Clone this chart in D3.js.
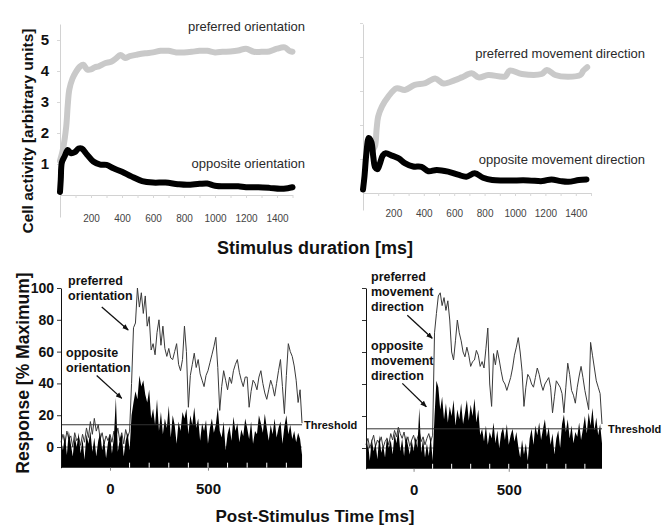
<!DOCTYPE html>
<html>
<head>
<meta charset="utf-8">
<script src="https://cdn.jsdelivr.net/npm/d3@7"></script>
<style>
  body { margin: 0; background: #fff; }
  text { font-family: "Liberation Sans", Arial, Helvetica, sans-serif; }
</style>
</head>
<body>
<div id="chart"></div>
<script>
// ---------- top panels: stimulus duration (ms) vs cell activity ----------
const prefOriT = [0, 20, 40, 50, 60, 80, 100, 130, 150, 175, 200, 225, 250, 290, 330, 360, 390, 420, 450, 500, 550, 600, 650, 700, 750, 800, 850, 900, 950, 1000, 1050, 1100, 1150, 1200, 1250, 1300, 1350, 1400, 1450, 1480, 1500];
const prefOriV = [1.1, 1.5, 2.2, 2.9, 3.4, 3.75, 3.95, 4.15, 4.2, 4.05, 4.05, 4.12, 4.15, 4.25, 4.3, 4.4, 4.52, 4.42, 4.48, 4.53, 4.57, 4.6, 4.65, 4.65, 4.6, 4.6, 4.62, 4.65, 4.65, 4.6, 4.62, 4.63, 4.66, 4.72, 4.62, 4.62, 4.63, 4.72, 4.76, 4.65, 4.62];
const oppOriT = [0, 5, 12, 30, 50, 70, 95, 120, 140, 175, 215, 260, 300, 345, 400, 460, 530, 600, 680, 760, 820, 900, 950, 1000, 1080, 1150, 1200, 1280, 1350, 1420, 1470, 1500];
const oppOriV = [0.1, 0.5, 1.05, 1.25, 1.45, 1.35, 1.38, 1.5, 1.5, 1.3, 1.08, 0.98, 0.97, 0.86, 0.75, 0.6, 0.45, 0.4, 0.4, 0.35, 0.33, 0.36, 0.37, 0.3, 0.28, 0.28, 0.25, 0.25, 0.23, 0.2, 0.22, 0.25];

const prefDirT = [70, 80, 90, 100, 125, 165, 220, 275, 340, 410, 475, 530, 605, 650, 715, 760, 825, 935, 965, 1045, 1175, 1210, 1265, 1350, 1430, 1450, 1475];
const prefDirV = [1.3, 1.4, 1.9, 2.25, 2.55, 2.83, 3.08, 3.03, 3.18, 3.23, 3.37, 3.22, 3.32, 3.4, 3.52, 3.4, 3.47, 3.43, 3.6, 3.5, 3.5, 3.62, 3.47, 3.42, 3.47, 3.6, 3.7];
const oppDirT = [0, 10, 22, 38, 55, 68, 80, 95, 110, 130, 150, 190, 235, 275, 330, 385, 430, 485, 560, 625, 680, 735, 790, 850, 950, 1090, 1180, 1240, 1300, 1350, 1420, 1470];
const oppDirV = [0.1, 0.5, 1.15, 1.62, 1.5, 1.05, 0.75, 0.7, 0.85, 1.1, 1.17, 1.1, 1.02, 0.88, 0.78, 0.77, 0.64, 0.68, 0.63, 0.54, 0.48, 0.58, 0.45, 0.38, 0.37, 0.37, 0.35, 0.4, 0.35, 0.33, 0.38, 0.4];

const durTicks = [100, 200, 300, 400, 500, 600, 700, 800, 900, 1000, 1100, 1200, 1300, 1400, 1500];
const durTickLabels = [200, 400, 600, 800, 1000, 1200, 1400];
const activityTicks = [1, 2, 3, 4, 5];

// ---------- bottom panels: post-stimulus time histograms (10 ms bins) ----------
const binTimes = d3.range(-250, 1000, 10);
const histPrefOri = [
  3, 8, 2, 10, 5, 7, 0, 9, 4, 6,
  1, 8, 3, 12, 6, 16, 8, 18, 10, 14,
  5, 9, 2, 7, 4, 8, 3, 10, 6, 12,
  4, 9, 2, 11, 6, 10, 40, 75, 78, 100,
  88, 97, 84, 95, 76, 82, 61, 65, 58, 72,
  80, 64, 76, 62, 57, 62, 56, 55, 60, 65,
  52, 48, 55, 76, 60, 25, 45, 52, 59, 50,
  55, 46, 42, 38, 45, 48, 53, 58, 63, 69,
  50, 23, 38, 48, 42, 36, 44, 40, 48, 52,
  55, 47, 42, 38, 44, 44, 25, 35, 42, 40,
  36, 44, 48, 40, 34, 30, 36, 42, 38, 32,
  40, 48, 55, 38, 21, 45, 65, 60, 57, 51,
  42, 28, 36, 15];
const histOppOri = [
  5, -2, 8, -5, 10, 2, -6, 7, 0, 9,
  -4, 5, -8, 8, 2, 10, -3, 6, -6, 4,
  9, -2, 5, -7, 3, 8, -4, 6, 31, -3,
  5, 8, -6, 4, 9, -2, 20, 28, 35, 30,
  45, 38, 42, 33, 28, 36, 18, 24, 14, 30,
  10, 22, 8, 18, 12, 26, 6, 20, 14, 2,
  16, 10, 22, 18, 24, 8, 20, 14, 25, 12,
  18, 4, 15, 10, 17, 2, 12, 18, 9, 14,
  25, 10, 6, 16, -2, 8, 13, 4, 19, 10,
  15, 3, 11, 7, 18, 12, 5, 16, 2, 10,
  8, 20, 15, 9, 21, 12, 4, 14, 8, 18,
  6, 12, 16, 2, 13, 20, 8, 14, 5, 10,
  3, 9, 5, -5];
const histPrefDir = [
  2, 6, 0, 4, 8, 1, 5, 3, 7, 0,
  4, 6, 2, 9, 5, 11, 7, 13, 9, 6,
  10, 3, 7, 1, 5, 8, 3, 6, 10, 4,
  7, 2, 6, 9, 4, 8, 72, 84, 95, 97,
  89, 94, 86, 92, 80, 60, 55, 67, 80, 72,
  67, 60, 57, 63, 58, 51, 54, 55, 61, 58,
  51, 54, 50, 62, 75, 40, 26, 59, 52, 61,
  55, 48, 42, 40, 36, 40, 44, 50, 58, 63,
  69, 60, 48, 26, 38, 46, 44, 40, 38, 44,
  50, 46, 40, 36, 40, 42, 44, 38, 22, 32,
  42, 40, 38, 34, 22, 38, 53, 46, 36, 33,
  28, 38, 45, 51, 44, 36, 30, 24, 66, 58,
  50, 42, 38, 34, 15];
const histOppDir = [
  -5, 4, -8, 6, -2, 3, -7, 8, -3, 2,
  -6, 7, 0, 5, -4, 9, 3, 12, -2, 6,
  -5, 8, 2, -4, 5, -2, 7, 0, 25, -3,
  6, -6, 3, -5, 8, -8, 20, 42, 38, 24,
  32, 18, 28, 16, 26, 20, 30, 14, 24, 18,
  28, 15, 22, 30, 17, 27, 20, 31, 16, 24,
  8, 12, 4, 14, 2, 10, 6, 16, 3, 11,
  0, 9, 13, 5, 15, 2, 8, 12, 4, 10,
  1, -6, 5, -4, 3, -8, 6, 12, 2, 14,
  8, 16, 5, 12, 18, 7, 13, 2, 9, -4,
  6, 11, 0, 15, 21, 10, 18, 6, 14, 3,
  10, 7, 16, 5, 12, 20, 9, 22, 14, 25,
  11, 19, 8, 15, 3];
const thresholdOri = 14;
const thresholdDir = 12;
const responseTicks = [0, 20, 40, 60, 80, 100];
const timeTickLabels = [0, 500];
const timeMinorTicks = [100, 200, 300, 400, 500, 600, 700, 800, 900];

const svg = d3.select("#chart").append("svg")
  .attr("width", 670)
  .attr("height", 525)
  .style("background", "#fff");

// arrow head for the annotations
svg.append("defs").append("marker")
  .attr("id", "arrow")
  .attr("viewBox", "0 0 10 10")
  .attr("refX", 9).attr("refY", 5)
  .attr("markerWidth", 5).attr("markerHeight", 5)
  .attr("orient", "auto")
  .append("path")
  .attr("d", "M0,1 L10,5 L0,9 z")
  .attr("fill", "#111");

function zip(ts, vs) { return ts.map((t, i) => [t, vs[i]]); }

// TOP PANEL
function drawTop(cfg) {
  const x = d3.scaleLinear().domain([0, 1500]).range(cfg.xRange);
  const y = d3.scaleLinear().domain([0, 5]).range(cfg.yRange);
  const g = svg.append("g");

  // y axis, the line runs a little past the data range
  const yAx = d3.scaleLinear()
    .domain([y.invert(cfg.axisBottom), y.invert(cfg.axisTop)])
    .range([cfg.axisBottom, cfg.axisTop]);
  const ya = g.append("g")
    .attr("transform", `translate(${x(0)},0)`)
    .call(d3.axisLeft(yAx).tickValues(activityTicks).tickSize(3).tickSizeOuter(0).tickPadding(8)
      .tickFormat(cfg.yLabels ? d3.format("d") : ""));
  ya.select(".domain").attr("stroke", "#d2d2d2");
  ya.selectAll(".tick line").attr("stroke", "#d8d8d8");
  ya.selectAll("text").style("font-size", "15px").style("font-weight", "bold").attr("fill", "#111");

  // x axis
  const xa = g.append("g")
    .attr("transform", `translate(0,${y(0)})`)
    .call(d3.axisBottom(x).tickValues(durTicks).tickSize(3).tickSizeOuter(0).tickPadding(cfg.xPad)
      .tickFormat(d => durTickLabels.includes(d) ? d : ""));
  xa.select(".domain").attr("stroke", "#d2d2d2");
  xa.selectAll(".tick line").attr("stroke", "#d8d8d8");
  xa.selectAll("text").style("font-size", "10px").attr("fill", "#444");

  const line = d3.line().x(d => x(d[0])).y(d => y(d[1])).curve(d3.curveCatmullRom);

  g.append("path")
    .datum(zip(cfg.prefT, cfg.prefV))
    .attr("d", line)
    .attr("fill", "none")
    .attr("stroke", "#c9c9c9")
    .attr("stroke-width", 6)
    .attr("stroke-linecap", "round")
    .attr("stroke-linejoin", "round");

  g.append("path")
    .datum(zip(cfg.oppT, cfg.oppV))
    .attr("d", line)
    .attr("fill", "none")
    .attr("stroke", "#000")
    .attr("stroke-width", 6)
    .attr("stroke-linecap", "round")
    .attr("stroke-linejoin", "round");

  cfg.notes.forEach(n => {
    g.append("text")
      .attr("x", n.x).attr("y", n.y)
      .attr("text-anchor", "end")
      .style("font-size", "13px")
      .attr("fill", "#2a2a2a")
      .text(n.text);
  });
}

// BOTTOM PANEL
function drawBottom(cfg) {
  const x = d3.scaleLinear().domain([-250, 990]).range(cfg.xRange);
  const y = d3.scaleLinear().domain([-13, 100]).range(cfg.yRange);
  const g = svg.append("g");

  const pref = cfg.pref.map((v, i) => [binTimes[i], v]);
  const opp = cfg.opp.map((v, i) => [binTimes[i], v]);
  const tEnd = binTimes[cfg.pref.length - 1];

  // zero reference line (only shows where the histogram dips below it)
  g.append("line")
    .attr("x1", x(-250)).attr("x2", x(tEnd))
    .attr("y1", y(0)).attr("y2", y(0))
    .attr("stroke", "#666").attr("stroke-width", 0.8);

  g.append("path")
    .datum(pref)
    .attr("d", d3.line().x(d => x(d[0])).y(d => y(d[1])))
    .attr("fill", "none")
    .attr("stroke", "#3a3a3a")
    .attr("stroke-width", 1);

  g.append("path")
    .datum(opp)
    .attr("d", d3.area().x(d => x(d[0])).y0(y(-13)).y1(d => y(d[1])))
    .attr("fill", "#000");

  // white tick marks cut into the bottom of the fill
  g.selectAll(".inner-tick")
    .data(timeMinorTicks)
    .enter().append("line")
    .attr("class", "inner-tick")
    .attr("x1", d => x(d)).attr("x2", d => x(d))
    .attr("y1", y(-13)).attr("y2", y(-13) - 5)
    .attr("stroke", "#fff").attr("stroke-width", 1);

  // threshold
  g.append("line")
    .attr("x1", x(-250)).attr("x2", x(tEnd))
    .attr("y1", y(cfg.threshold)).attr("y2", y(cfg.threshold))
    .attr("stroke", "#333").attr("stroke-width", 1);
  g.append("text")
    .attr("x", x(tEnd) + cfg.thrGap).attr("y", y(cfg.threshold))
    .attr("dy", "0.35em")
    .style("font-size", "11px").style("font-weight", "bold")
    .attr("fill", "#111")
    .text("Threshold");

  // y axis
  const ya = g.append("g")
    .attr("transform", `translate(${x(-250)},0)`)
    .call(d3.axisLeft(y).tickValues(responseTicks).tickSize(4).tickSizeOuter(0).tickPadding(3)
      .tickFormat(cfg.yLabels ? d3.format("d") : ""));
  ya.select(".domain").attr("stroke", "#111");
  ya.selectAll(".tick line").attr("stroke", "#333");
  ya.selectAll("text").style("font-size", "14px").style("font-weight", "bold").attr("fill", "#111");

  // x axis
  const xa = g.append("g")
    .attr("transform", `translate(0,${y(-13)})`)
    .call(d3.axisBottom(x).tickValues(timeTickLabels).tickSize(3).tickPadding(13));
  xa.select(".domain").remove();
  xa.selectAll(".tick line").attr("stroke", "#888");
  xa.selectAll("text").style("font-size", "15px").style("font-weight", "bold").attr("fill", "#111");

  // labels with arrows
  cfg.notes.forEach(n => {
    const t = g.append("text")
      .attr("x", n.x).attr("y", n.y)
      .style("font-size", "12.5px").style("font-weight", "bold")
      .attr("fill", "#111");
    n.lines.forEach((s, i) => {
      t.append("tspan").attr("x", n.x).attr("dy", i === 0 ? 0 : 15).text(s);
    });
  });
  cfg.arrows.forEach(a => {
    g.append("line")
      .attr("x1", x(a[0])).attr("y1", y(a[1]))
      .attr("x2", x(a[2])).attr("y2", y(a[3]))
      .attr("stroke", "#111").attr("stroke-width", 1.3)
      .attr("marker-end", "url(#arrow)");
  });
}

drawTop({
  xRange: [60, 292.5], yRange: [195, 40], axisTop: 24, axisBottom: 217, xPad: 17, yLabels: true,
  prefT: prefOriT, prefV: prefOriV, oppT: oppOriT, oppV: oppOriV,
  notes: [
    { text: "preferred orientation", x: 305, y: 31 },
    { text: "opposite orientation", x: 305, y: 168 }
  ]
});

drawTop({
  xRange: [363, 591], yRange: [193, 23], axisTop: 24, axisBottom: 210, xPad: 14, yLabels: false,
  prefT: prefDirT, prefV: prefDirV, oppT: oppDirT, oppV: oppDirV,
  notes: [
    { text: "preferred movement direction", x: 645, y: 58 },
    { text: "opposite movement direction", x: 645, y: 164 }
  ]
});

drawBottom({
  xRange: [61, 304], yRange: [467.7, 288], yLabels: true,
  pref: histPrefOri, opp: histOppOri, threshold: thresholdOri, thrGap: 2,
  notes: [
    { lines: ["preferred", "orientation"], x: 68, y: 285 },
    { lines: ["opposite", "orientation"], x: 66, y: 357 }
  ],
  arrows: [[-42, 88, 93, 73.6], [-68, 45, 60, 30.6]]
});

drawBottom({
  xRange: [366, 602], yRange: [468.8, 288], yLabels: false,
  pref: histPrefDir, opp: histOppDir, threshold: thresholdDir, thrGap: 6,
  notes: [
    { lines: ["preferred", "movement", "direction"], x: 371, y: 281 },
    { lines: ["opposite", "movement", "direction"], x: 371, y: 350 }
  ],
  arrows: [[-33, 83, 98, 68.6], [-59, 40.4, 67, 25.8]]
});

// axis titles
svg.append("text")
  .attr("transform", "translate(33,131) rotate(-90)")
  .attr("text-anchor", "middle")
  .style("font-size", "15.5px").style("font-weight", "bold")
  .attr("fill", "#111")
  .text("Cell activity [arbitrary units]");

svg.append("text")
  .attr("x", 315).attr("y", 254)
  .attr("text-anchor", "middle")
  .style("font-size", "18px").style("font-weight", "bold")
  .attr("fill", "#111")
  .text("Stimulus duration [ms]");

svg.append("text")
  .attr("transform", "translate(29,373) rotate(-90)")
  .attr("text-anchor", "middle")
  .style("font-size", "17.5px").style("font-weight", "bold")
  .attr("fill", "#111")
  .text("Response [% Maximum]");

svg.append("text")
  .attr("x", 315).attr("y", 522)
  .attr("text-anchor", "middle")
  .style("font-size", "17px").style("font-weight", "bold")
  .attr("fill", "#111")
  .text("Post-Stimulus Time [ms]");
</script>
</body>
</html>
